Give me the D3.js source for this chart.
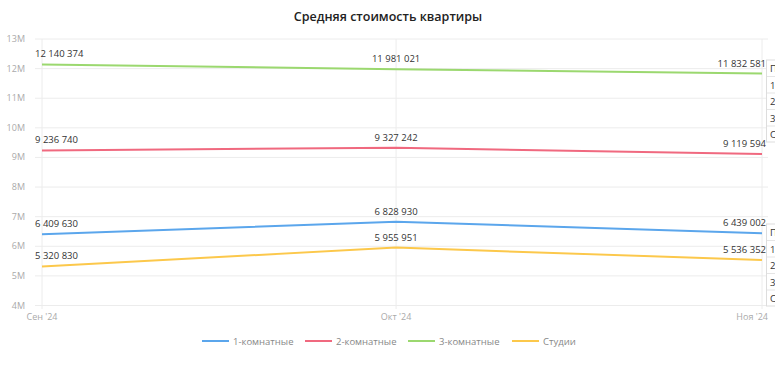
<!DOCTYPE html>
<html><head><meta charset="utf-8">
<script src="https://cdn.jsdelivr.net/npm/d3@7"></script>
<style>
body{margin:0;background:#fff;font-family:"Open Sans",sans-serif;overflow:hidden}
</style></head><body>
<svg id="c" width="775" height="369"></svg>
<script>
const categories = ["Сен '24", "Окт '24", "Ноя '24"];
const dates = ["2024-09-01", "2024-10-01", "2024-11-01"];
const seriesNames = ["1-комнатные", "2-комнатные", "3-комнатные", "Студии"];
const oneRoom = [6409630, 6828930, 6439002];
const twoRoom = [9236740, 9327242, 9119594];
const threeRoom = [12140374, 11981021, 11832581];
const studios = [5320830, 5955951, 5536352];
const yTicks = [4e6,5e6,6e6,7e6,8e6,9e6,10e6,11e6,12e6,13e6];
const colors = ["#5ba6ec", "#f0697f", "#9bd86f", "#fcc84b"];
const tooltipRows = ["П", "1", "2", "3", "С"];

const series = [oneRoom, twoRoom, threeRoom, studios].map((v,i)=>({name:seriesNames[i], values:v, color:colors[i]}));
const parse = d3.timeParse("%Y-%m-%d");
const dts = dates.map(parse);

const svg = d3.select("#c");
const x = d3.scaleTime().domain([dts[0], dts[2]]).range([42, 762]);
const y = d3.scaleLinear().domain([4e6, 13e6]).range([305.5, 39]);
const fmt = v => d3.format(",")(v).replace(/,/g, " ");

svg.append("text").attr("x", 388).attr("y", 21).attr("text-anchor","middle")
  .attr("font-size", 12.5).attr("font-weight", 600).attr("fill","#222").text("Средняя стоимость квартиры");

// grid
const g = svg.append("g");
g.selectAll("line.h").data(yTicks).join("line")
  .attr("x1", 35).attr("x2", 768).attr("y1", d=>y(d)).attr("y2", d=>y(d))
  .attr("stroke", "#ececec").attr("stroke-width", 1);
g.selectAll("line.v").data(dts).join("line")
  .attr("x1", d=>x(d)).attr("x2", d=>x(d)).attr("y1", 39).attr("y2", 309)
  .attr("stroke", "#ececec").attr("stroke-width", 1);

// y axis labels
g.selectAll("text.yl").data(yTicks).join("text")
  .attr("x", 25).attr("y", d=>y(d)+3).attr("text-anchor","end")
  .attr("font-size", 9).attr("fill","#aaa").text(d=>(d/1e6)+"M");

// x labels
g.selectAll("text.xl").data(categories).join("text")
  .attr("x", (d,i)=> i===2 ? x(dts[i])+6 : x(dts[i]))
  .attr("y", 320)
  .attr("text-anchor", (d,i)=> i===2 ? "end" : "middle")
  .attr("font-size", 9).attr("fill","#aaa").text(d=>d);

// lines
const line = d3.line().x((d,i)=>x(dts[i])).y(d=>y(d));
svg.selectAll("path.s").data(series).join("path")
  .attr("d", d=>line(d.values)).attr("fill","none")
  .attr("stroke", d=>d.color).attr("stroke-width", 2);

// data labels
series.forEach(s=>{
  svg.selectAll(null).data(s.values).join("text")
    .attr("x", (d,i)=> i===0 ? x(dts[i])-7 : i===2 ? x(dts[i])+4 : x(dts[i]))
    .attr("y", d=>y(d)-7)
    .attr("text-anchor", (d,i)=> i===0 ? "start" : i===2 ? "end" : "middle")
    .attr("font-size", 9.5).attr("fill","#333").text(d=>fmt(d));
});

// clipped tooltip tables at right edge
[60, 224].forEach(top=>{
  const tg = svg.append("g");
  tg.append("rect").attr("x", 766.5).attr("y", top).attr("width", 40).attr("height", 82)
    .attr("fill","#fff").attr("stroke","#ddd");
  tooltipRows.forEach((r,i)=>{
    if(i>0) tg.append("line").attr("x1",767).attr("x2",800).attr("y1",top+i*16.5).attr("y2",top+i*16.5).attr("stroke","#e5e5e5");
    tg.append("text").attr("x", 770).attr("y", top+12+i*16.5).attr("font-size", 9.5).attr("fill","#333").text(r);
  });
});

// legend
const legX = [202, 305, 408, 512];
const lg = svg.selectAll("g.leg").data(series).join("g").attr("transform",(d,i)=>`translate(${legX[i]},341)`);
lg.append("line").attr("x1",0).attr("x2",27).attr("stroke",d=>d.color).attr("stroke-width",2);
lg.append("text").attr("x",31).attr("y",3.5).attr("font-size",9.5).attr("fill","#888").text(d=>d.name);
</script></body></html>
